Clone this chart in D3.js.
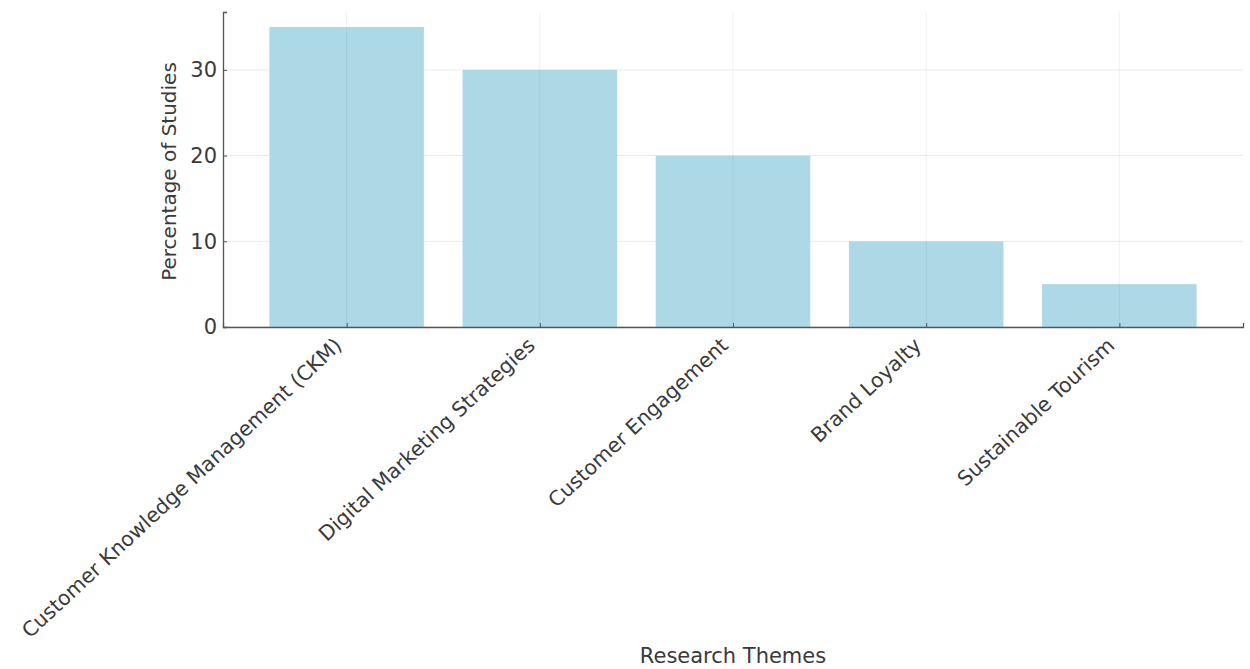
<!DOCTYPE html>
<html>
<head>
<meta charset="utf-8">
<script src="https://cdn.jsdelivr.net/npm/d3@7"></script>
<style>
  body { margin: 0; background: #fff; }
  text { font-family: "DejaVu Sans", sans-serif; fill: #333; }
</style>
</head>
<body>
<script>
var themes = [
  "Customer Knowledge Management (CKM)",
  "Digital Marketing Strategies",
  "Customer Engagement",
  "Brand Loyalty",
  "Sustainable Tourism"
];
var percentages = [35, 30, 20, 10, 5];
var yTicks = [0, 10, 20, 30];

var W = 1250, H = 669;
var margin = {top: 12, right: 7, bottom: 342, left: 223};
var width = W - margin.left - margin.right,
    height = H - margin.top - margin.bottom;

var svg = d3.select("body").append("svg")
    .attr("width", W)
    .attr("height", H)
  .append("g")
    .attr("transform", "translate(" + margin.left + "," + margin.top + ")");

// matplotlib style: bar positions at integers, width 0.8, 5% margins
var n = themes.length;
var x = d3.scaleLinear()
    .domain([-0.4 - 0.05 * (n - 0.2), n - 0.6 + 0.05 * (n - 0.2)])
    .range([0, width]);
var y = d3.scaleLinear()
    .domain([0, d3.max(percentages) * 1.05])
    .range([height, 0]);

// horizontal grid
svg.append("g")
    .selectAll("line")
    .data(yTicks)
  .enter().append("line")
    .attr("x1", 0).attr("x2", width)
    .attr("y1", function(d) { return y(d); })
    .attr("y2", function(d) { return y(d); })
    .style("stroke", "#ebebeb")
    .style("stroke-width", 1);

// bars
svg.selectAll("rect.bar")
    .data(percentages)
  .enter().append("rect")
    .attr("class", "bar")
    .attr("x", function(d, i) { return x(i - 0.4); })
    .attr("width", x(0.8) - x(0))
    .attr("y", function(d) { return y(d); })
    .attr("height", function(d) { return height - y(d); })
    .style("fill", "#add8e6");

// vertical grid (shows faintly over bars)
svg.append("g")
    .selectAll("line")
    .data(d3.range(n))
  .enter().append("line")
    .attr("x1", function(d) { return x(d); })
    .attr("x2", function(d) { return x(d); })
    .attr("y1", 0).attr("y2", height)
    .style("stroke", "#000")
    .style("stroke-opacity", 0.06)
    .style("stroke-width", 1);

// y axis
var yAxis = svg.append("g")
    .call(d3.axisLeft(y).tickValues(yTicks).tickSize(-4).tickPadding(6));
yAxis.select(".domain").style("stroke", "#555").style("stroke-width", 1.3);
yAxis.selectAll(".tick line").style("stroke", "#555");
yAxis.selectAll("text").style("font-size", "21px").style("fill", "#3a3a3a");

// x axis
var xAxis = svg.append("g")
    .attr("transform", "translate(0," + height + ")")
    .call(d3.axisBottom(x).tickValues(d3.range(n)).tickSize(-4)
      .tickFormat(function(d) { return themes[d]; }));
xAxis.select(".domain").style("stroke", "#555").style("stroke-width", 1.3);
xAxis.selectAll(".tick line").style("stroke", "#555");
xAxis.selectAll("text")
    .style("font-size", "20.5px")
    .style("fill", "#3a3a3a")
    .attr("text-anchor", "end")
    .attr("dy", "0")
    .attr("y", 0)
    .attr("transform", "translate(-4,20) rotate(-43)");

// axis titles
svg.append("text")
    .attr("transform", "rotate(-90)")
    .attr("x", -height / 2 - 2)
    .attr("y", -47)
    .attr("text-anchor", "middle")
    .style("font-size", "20px")
    .style("fill", "#3a3a3a")
    .text("Percentage of Studies");

svg.append("text")
    .attr("x", width / 2)
    .attr("y", height + 336)
    .attr("text-anchor", "middle")
    .style("font-size", "21px")
    .style("fill", "#3a3a3a")
    .text("Research Themes");
</script>
</body>
</html>
